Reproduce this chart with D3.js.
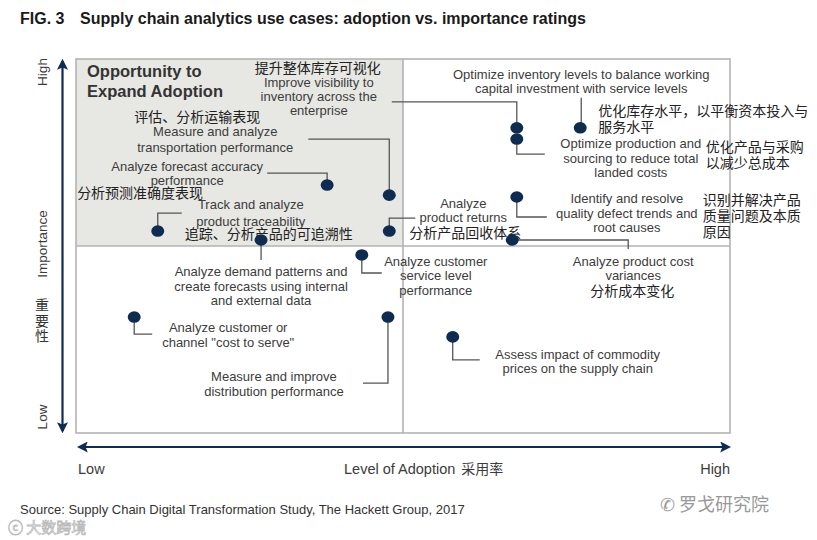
<!DOCTYPE html>
<html>
<head>
<meta charset="utf-8">
<script src="https://cdn.jsdelivr.net/npm/d3@7"></script>
<style>
  html, body { margin: 0; padding: 0; background: #fff; }
  svg { display: block; }
</style>
</head>
<body>
<svg id="chart" width="817" height="540"></svg>
<script>
// ---------------- DATA ----------------
const useCases = [
  "Improve visibility to inventory across the enterprise",
  "Optimize inventory levels to balance working capital investment with service levels",
  "Optimize production and sourcing to reduce total landed costs",
  "Analyze forecast accuracy performance",
  "Measure and analyze transportation performance",
  "Identify and resolve quality defect trends and root causes",
  "Track and analyze product traceability",
  "Analyze product returns",
  "Analyze demand patterns and create forecasts using internal and external data",
  "Analyze product cost variances",
  "Analyze customer service level performance",
  "Analyze customer or channel \"cost to serve\"",
  "Measure and improve distribution performance",
  "Assess impact of commodity prices on the supply chain"
];
// Level of adoption (0 = low, 10 = high)
const adoption   = [6.74, 7.71, 6.74, 3.84, 4.79, 6.74, 1.25, 4.79, 2.83, 6.67, 4.37, 0.89, 4.77, 5.76];
// Importance (0 = low, 10 = high)
const importance = [8.16, 8.16, 7.86, 6.63, 6.36, 6.31, 5.40, 5.40, 5.16, 5.16, 4.76, 3.10, 3.10, 2.57];
// Chinese annotations (same order; empty when absent)
const zhLabels = [
  ["提升整体库存可视化"],
  ["优化库存水平，以平衡资本投入与", "服务水平"],
  ["优化产品与采购", "以减少总成本"],
  ["分析预测准确度表现"],
  ["评估、分析运输表现"],
  ["识别并解决产品", "质量问题及本质", "原因"],
  ["追踪、分析产品的可追溯性"],
  ["分析产品回收体系"],
  [],
  ["分析成本变化"],
  [],
  [],
  [],
  []
];
const xTickLabels = ["Low", "High"];
const yTickLabels = ["Low", "High"];
const xTitle = "Level of Adoption";
const xTitleZh = "采用率";
const yTitle = "Importance";
const yTitleZh = "重要性";
const quadrantTitle = ["Opportunity to", "Expand Adoption"];
const chartTitleFig = "FIG. 3";
const chartTitle = "Supply chain analytics use cases: adoption vs. importance ratings";
const sourceText = "Source: Supply Chain Digital Transformation Study, The Hackett Group, 2017";

// ---------------- LAYOUT (label placement relative to each dot) ----------------
const layout = [
  { en:["Improve visibility to","inventory across the","enterprise"], edx:-198, edy:-41, elh:14, ea:"middle",
    zdx:-199, zdy:-55, za:"middle", leader:[[-125,-26],[0,-26],[0,0]] },
  { en:["Optimize inventory levels to balance working","capital investment with service levels"], edx:1, edy:-49, elh:14, ea:"middle",
    zdx:18, zdy:-12, za:"start", leader:[[1,-30],[1,0]] },
  { en:["Optimize production and","sourcing to reduce total","landed costs"], edx:114, edy:9, elh:14.5, ea:"middle",
    zdx:189, zdy:13, za:"start", leader:[[0,0],[0,15],[28,15]] },
  { en:["Analyze forecast accuracy","performance"], edx:-140, edy:-14, elh:13.5, ea:"middle",
    zdx:-250, zdy:13, za:"start", leader:[[-60,-12],[0,-12],[0,0]] },
  { en:["Measure and analyze","transportation performance"], edx:-174, edy:-59, elh:16, ea:"middle",
    zdx:-192, zdy:-73, za:"middle", leader:[[-81,-56],[0,-56],[0,0]] },
  { en:["Identify and resolve","quality defect trends and","root causes"], edx:110, edy:6, elh:14.5, ea:"middle",
    zdx:186, zdy:8, za:"start", leader:[[0,0],[0,20],[30,20]] },
  { en:["Track and analyze","product traceability"], edx:93, edy:-22, elh:16.5, ea:"middle",
    zdx:111, zdy:8, za:"middle", leader:[[0,0],[0,-18],[24,-18]] },
  { en:["Analyze","product returns"], edx:74, edy:-23, elh:14, ea:"middle",
    zdx:76, zdy:7, za:"middle", leader:[[0,0],[0,-13],[26,-13]] },
  { en:["Analyze demand patterns and","create forecasts using internal","and external data"], edx:0, edy:36, elh:14.5, ea:"middle",
    leader:[[0,0],[0,20]] },
  { en:["Analyze product cost","variances"], edx:121, edy:26, elh:14, ea:"middle",
    zdx:120, zdy:56, za:"middle", leader:[[0,0],[116,0],[116,9]] },
  { en:["Analyze customer","service level","performance"], edx:74, edy:11, elh:14.5, ea:"middle",
    leader:[[0,0],[0,18],[20,18]] },
  { en:["Analyze customer or","channel \"cost to serve\""], edx:94, edy:15, elh:15, ea:"middle",
    leader:[[0,0],[0,17],[18,17]] },
  { en:["Measure and improve","distribution performance"], edx:-114, edy:64, elh:15, ea:"middle",
    leader:[[0,0],[0,66],[-25,66]] },
  { en:["Assess impact of commodity","prices on the supply chain"], edx:125, edy:22, elh:14, ea:"middle",
    leader:[[0,0],[0,23],[27,23]] }
];

// ---------------- DRAW ----------------
const svg = d3.select("#chart");
const plot = { left: 76, right: 730, top: 59, bottom: 433 };

const x = d3.scaleLinear().domain([0, 10]).range([plot.left, plot.right]);
const y = d3.scaleLinear().domain([0, 10]).range([plot.bottom, plot.top]);

const enFont = "'Liberation Sans', Arial, sans-serif";
const zhFont = "'Noto Sans CJK SC', sans-serif";
const navy = "#0f2b50";
const textGray = "#3c3c3c";

// Title
const title = svg.append("text").attr("x", 20).attr("y", 24)
  .attr("font-family", enFont).attr("font-weight", "bold").attr("font-size", 16).attr("fill", "#1a1a1a");
title.append("tspan").text(chartTitleFig);
title.append("tspan").attr("x", 80).text(chartTitle);

// Shaded quadrant
svg.append("rect")
  .attr("x", x(0)).attr("y", y(10))
  .attr("width", x(5) - x(0)).attr("height", y(5) - y(10))
  .attr("fill", "#e7e7e3");

// Plot frame & quadrant lines
const frame = svg.append("g").attr("stroke", "#b3b3b3").attr("stroke-width", 1.6).attr("fill", "none");
frame.append("rect").attr("x", x(0)).attr("y", y(10)).attr("width", x(10) - x(0)).attr("height", y(0) - y(10));
frame.append("line").attr("x1", x(5)).attr("x2", x(5)).attr("y1", y(0)).attr("y2", y(10));
frame.append("line").attr("x1", x(0)).attr("x2", x(10)).attr("y1", y(5)).attr("y2", y(5));

// Quadrant title
svg.append("text").attr("x", 87).attr("y", 77)
  .attr("font-family", enFont).attr("font-weight", "bold").attr("font-size", 16.5).attr("fill", "#333")
  .selectAll("tspan").data(quadrantTitle).join("tspan")
  .attr("x", 87).attr("dy", (d, i) => i === 0 ? 0 : 20).text(d => d);

// Arrow markers
const defs = svg.append("defs");
defs.append("marker").attr("id", "ah").attr("viewBox", "0 0 10 10")
  .attr("refX", 8).attr("refY", 5).attr("markerWidth", 5).attr("markerHeight", 5)
  .attr("orient", "auto-start-reverse").attr("markerUnits", "strokeWidth")
  .append("path").attr("d", "M0,0 L10,5 L0,10 L2,5 Z").attr("fill", navy);

// Y axis arrow
svg.append("line").attr("x1", 62.5).attr("x2", 62.5).attr("y1", y(10) + 2).attr("y2", y(0) - 2)
  .attr("stroke", navy).attr("stroke-width", 2.2)
  .attr("marker-start", "url(#ah)").attr("marker-end", "url(#ah)");
// X axis arrow
svg.append("line").attr("x1", x(0) + 3).attr("x2", x(10) - 1).attr("y1", 447).attr("y2", 447)
  .attr("stroke", navy).attr("stroke-width", 2.2)
  .attr("marker-start", "url(#ah)").attr("marker-end", "url(#ah)");

// Y axis labels (rotated)
const yl = svg.append("g").attr("font-family", enFont).attr("font-size", 13.5).attr("fill", textGray);
yl.append("text").attr("transform", `translate(47,${y(10) + 13}) rotate(-90)`).attr("text-anchor", "middle").text(yTickLabels[1]);
yl.append("text").attr("transform", `translate(47,${y(0) - 16}) rotate(-90)`).attr("text-anchor", "middle").text(yTickLabels[0]);
yl.append("text").attr("transform", `translate(47,${y(5) - 2}) rotate(-90)`).attr("text-anchor", "middle").text(yTitle);
// Chinese stacked vertically, upright glyphs
svg.append("text").attr("x", 42).attr("y", 298)
  .attr("font-family", zhFont).attr("font-size", 14).attr("fill", "#333")
  .style("writing-mode", "vertical-rl").style("text-orientation", "upright")
  .attr("letter-spacing", 1.5)
  .text(yTitleZh);

// X axis labels
const xl = svg.append("g").attr("font-family", enFont).attr("font-size", 14.5).attr("fill", textGray);
xl.append("text").attr("x", x(0) + 2).attr("y", 474).text(xTickLabels[0]);
xl.append("text").attr("x", x(10)).attr("y", 474).attr("text-anchor", "end").text(xTickLabels[1]);
const xt = xl.append("text").attr("x", 344).attr("y", 474);
xt.append("tspan").text(xTitle);
xt.append("tspan").attr("font-family", zhFont).attr("font-size", 14).attr("dx", 6).text(xTitleZh);

// Leaders, dots, labels
const pts = useCases.map((name, i) => ({ name, ax: adoption[i], im: importance[i], zh: zhLabels[i], L: layout[i] }));

const lineGen = d3.line();
svg.append("g").attr("fill", "none").attr("stroke", "#555").attr("stroke-width", 1.3)
  .selectAll("path").data(pts).join("path")
  .attr("d", d => lineGen(d.L.leader.map(p => [x(d.ax) + p[0], y(d.im) + p[1]])));

const enG = svg.append("g").attr("font-family", enFont).attr("font-size", 13).attr("fill", textGray);
pts.forEach(d => {
  const cx = x(d.ax), cy = y(d.im);
  enG.append("text").attr("text-anchor", d.L.ea)
    .selectAll("tspan").data(d.L.en).join("tspan")
    .attr("x", cx + d.L.edx).attr("y", (t, i) => cy + d.L.edy + i * d.L.elh).text(t => t);
});

const zhG = svg.append("g").attr("font-family", zhFont).attr("font-size", 14).attr("fill", "#222");
pts.filter(d => d.zh.length).forEach(d => {
  const cx = x(d.ax), cy = y(d.im);
  zhG.append("text").attr("text-anchor", d.L.za)
    .selectAll("tspan").data(d.zh).join("tspan")
    .attr("x", cx + d.L.zdx).attr("y", (t, i) => cy + d.L.zdy + i * 16).text(t => t);
});

svg.append("g").selectAll("ellipse").data(pts).join("ellipse")
  .attr("cx", d => x(d.ax)).attr("cy", d => y(d.im))
  .attr("rx", 6.5).attr("ry", 5.8).attr("fill", navy);

// Source
svg.append("text").attr("x", 20).attr("y", 514)
  .attr("font-family", enFont).attr("font-size", 13).attr("fill", "#333").text(sourceText);

// Watermarks
svg.append("text").attr("x", 8).attr("y", 533)
  .attr("font-family", zhFont).attr("font-size", 15).attr("fill", "none")
  .attr("stroke", "#bbb").attr("stroke-width", 0.8).text("ⓒ 大数跨境");
svg.append("text").attr("x", 660).attr("y", 511)
  .attr("font-family", zhFont).attr("font-size", 18).attr("fill", "#999").text("✆ 罗戈研究院");
</script>
</body>
</html>
